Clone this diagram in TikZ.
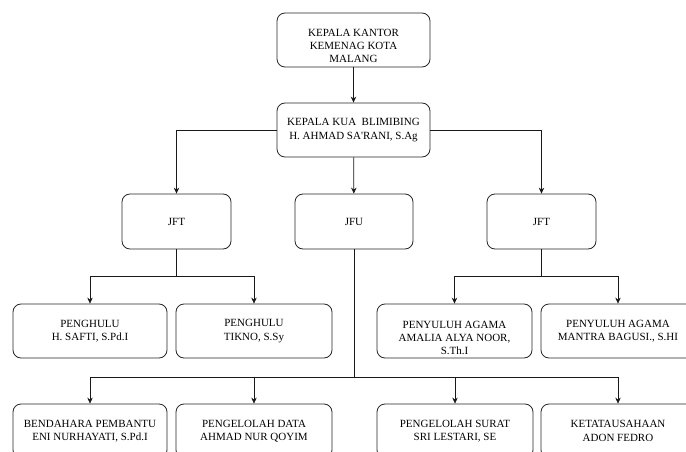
\documentclass[tikz,border=0pt]{standalone}
\usepackage{fontspec}
\setmainfont{Liberation Serif}
\usetikzlibrary{arrows.meta}

\tikzset{
  orgbox/.style={draw=black!85, line width=0.8pt, rounded corners=8pt,
    minimum height=54pt, align=center, inner sep=2pt,
    font=\fontsize{11}{13.3}\selectfont},
  link/.style={draw=black!90, line width=0.7pt},
  arrowlink/.style={link, -{Stealth[length=6pt,width=5.5pt]}}
}

\begin{document}
\begin{tikzpicture}[x=1pt,y=-1pt]
    \clip (0,0) rectangle (686,452);

    % top level
    \node[orgbox,minimum width=153pt] (kantor) at (353.5,40) {};
    \node[align=center,font=\fontsize{11}{13.3}\selectfont] at (353.5,46) {KEPALA KANTOR\\KEMENAG KOTA\\MALANG};
    \node[orgbox,minimum width=153pt] (kua) at (353.5,130) {KEPALA KUA\ \ BLIMIBING\\H. AHMAD SA\textquotesingle RANI, S.Ag};

    % second level
    \node[orgbox,minimum width=109pt,minimum height=55pt] (jftA) at (176.5,221.5) {JFT};
    \node[orgbox,minimum width=118pt,minimum height=55pt] (jfu) at (354,221.5) {JFU};
    \node[orgbox,minimum width=109pt,minimum height=55pt] (jftB) at (541.5,221.5) {JFT};

    % penghulu and penyuluh
    \node[orgbox,minimum width=154pt] (penghuluA) at (90,331) {PENGHULU\\H. SAFTI, S.Pd.I};
    \node[orgbox,minimum width=156pt] (penghuluB) at (254,331) {PENGHULU\\TIKNO, S.Sy};
    \node[orgbox,minimum width=155pt] (penyuluhA) at (454.5,331) {};
    \node[align=center,font=\fontsize{11}{13.3}\selectfont] at (454.5,338) {PENYULUH AGAMA\\AMALIA ALYA NOOR,\\S.Th.I};
    \node[orgbox,minimum width=154pt] (penyuluhB) at (618,331) {PENYULUH AGAMA\\MANTRA BAGUSI., S.HI};

    % staff under JFU
    \node[orgbox,minimum width=154pt] (bendahara) at (90,431) {BENDAHARA PEMBANTU\\ENI NURHAYATI, S.Pd.I};
    \node[orgbox,minimum width=156pt] (data) at (254,431) {PENGELOLAH DATA\\AHMAD NUR QOYIM};
    \node[orgbox,minimum width=156pt] (surat) at (455,431) {PENGELOLAH SURAT\\SRI LESTARI, SE};
    \node[orgbox,minimum width=154pt] (tu) at (618,431) {KETATAUSAHAAN\\ADON FEDRO};

    % connectors
    \draw[arrowlink] (kantor) -- (kua);
    \draw[arrowlink] (kua.west) -| (jftA.north);
    \draw[arrowlink] (kua) -- (jfu);
    \draw[arrowlink] (kua.east) -| (jftB.north);

    \draw[arrowlink] (jftA.south) -- ++(0,27) -| (penghuluA.north);
    \draw[arrowlink] (jftA.south) -- ++(0,27) -| (penghuluB.north);
    \draw[arrowlink] (jftB.south) -- ++(0,27) -| (penyuluhA.north);
    \draw[arrowlink] (jftB.south) -- ++(0,27) -| (penyuluhB.north);

    \draw[arrowlink] (jfu.south) -- ++(0,128) -| (bendahara.north);
    \draw[arrowlink] (jfu.south) -- ++(0,128) -| (data.north);
    \draw[arrowlink] (jfu.south) -- ++(0,128) -| (surat.north);
    \draw[arrowlink] (jfu.south) -- ++(0,128) -| (tu.north);
\end{tikzpicture}
\end{document}
